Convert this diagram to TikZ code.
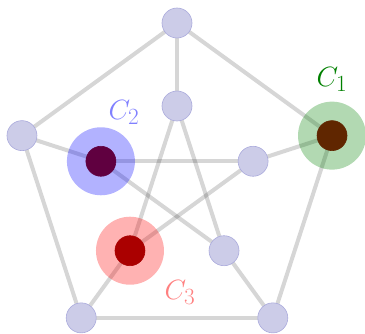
\documentclass[tikz,border=0pt]{standalone}
\usepackage{amsmath}
\usepackage{tikz}
\usetikzlibrary{calc}
\definecolor{vfill}{RGB}{204,204,232}
\definecolor{vline}{RGB}{170,170,220}
\definecolor{dkone}{RGB}{96,38,0}
\definecolor{dktwo}{RGB}{96,0,64}
\definecolor{dkthree}{RGB}{170,0,0}
\tikzstyle{vertex} = [circle, fill=vfill, draw=vline, line width=0.6pt,
    minimum size=30pt, inner sep=0]
\tikzstyle{edge} = [draw=black, opacity=0.16, line width=4pt]
\tikzstyle{halo} = [circle, minimum size=68pt, inner sep=0, opacity=0.3]
\tikzstyle{clabel} = [font=\Huge, inner sep=0, scale=1.12, transform shape]

\begin{document}
\begin{tikzpicture}[x=1pt,y=1pt]
\useasboundingbox (0,0) rectangle (365,333);
\coordinate (c) at (177,147);
% outer and inner pentagon
\foreach \k/\a in {1/90,2/162,3/234,4/306,5/18}{
    \coordinate (o\k) at ($(c)+(\a:163pt)$);
    \coordinate (i\k) at ($(c)+(\a:80pt)$);
}
\foreach \u/\v in {o1/o2,o2/o3,o3/o4,o4/o5,o5/o1,
    o1/i1,o2/i2,o3/i3,o4/i4,o5/i5,
    i1/i3,i3/i5,i5/i2,i2/i4,i4/i1}
    \draw[edge] (\u) -- (\v);
% the three colour classes
\node[halo, fill=green!50!black] (h1) at (o5) {};
\node[halo, fill=blue] (h2) at (i2) {};
\node[halo, fill=red] (h3) at (i3) {};
\foreach \k in {1,2,3,4}
    \node[vertex] (vo\k) at (o\k) {};
\foreach \k in {1,4,5}
    \node[vertex] (vi\k) at (i\k) {};
\node[vertex, fill=dkone, draw=dkone] (vo5) at (o5) {};
\node[vertex, fill=dktwo, draw=dktwo] (vi2) at (i2) {};
\node[vertex, fill=dkthree, draw=dkthree] (vi3) at (i3) {};
\node[clabel, text=green!50!black] (l1) at ([yshift=56pt]o5) {$C_1$};
\node[clabel, text=blue!50] (l2) at ([xshift=23pt,yshift=49pt]i2) {$C_2$};
\node[clabel, text=red!50] (l3) at ([xshift=50pt,yshift=-42pt]i3) {$C_3$};
\end{tikzpicture}
\end{document}
